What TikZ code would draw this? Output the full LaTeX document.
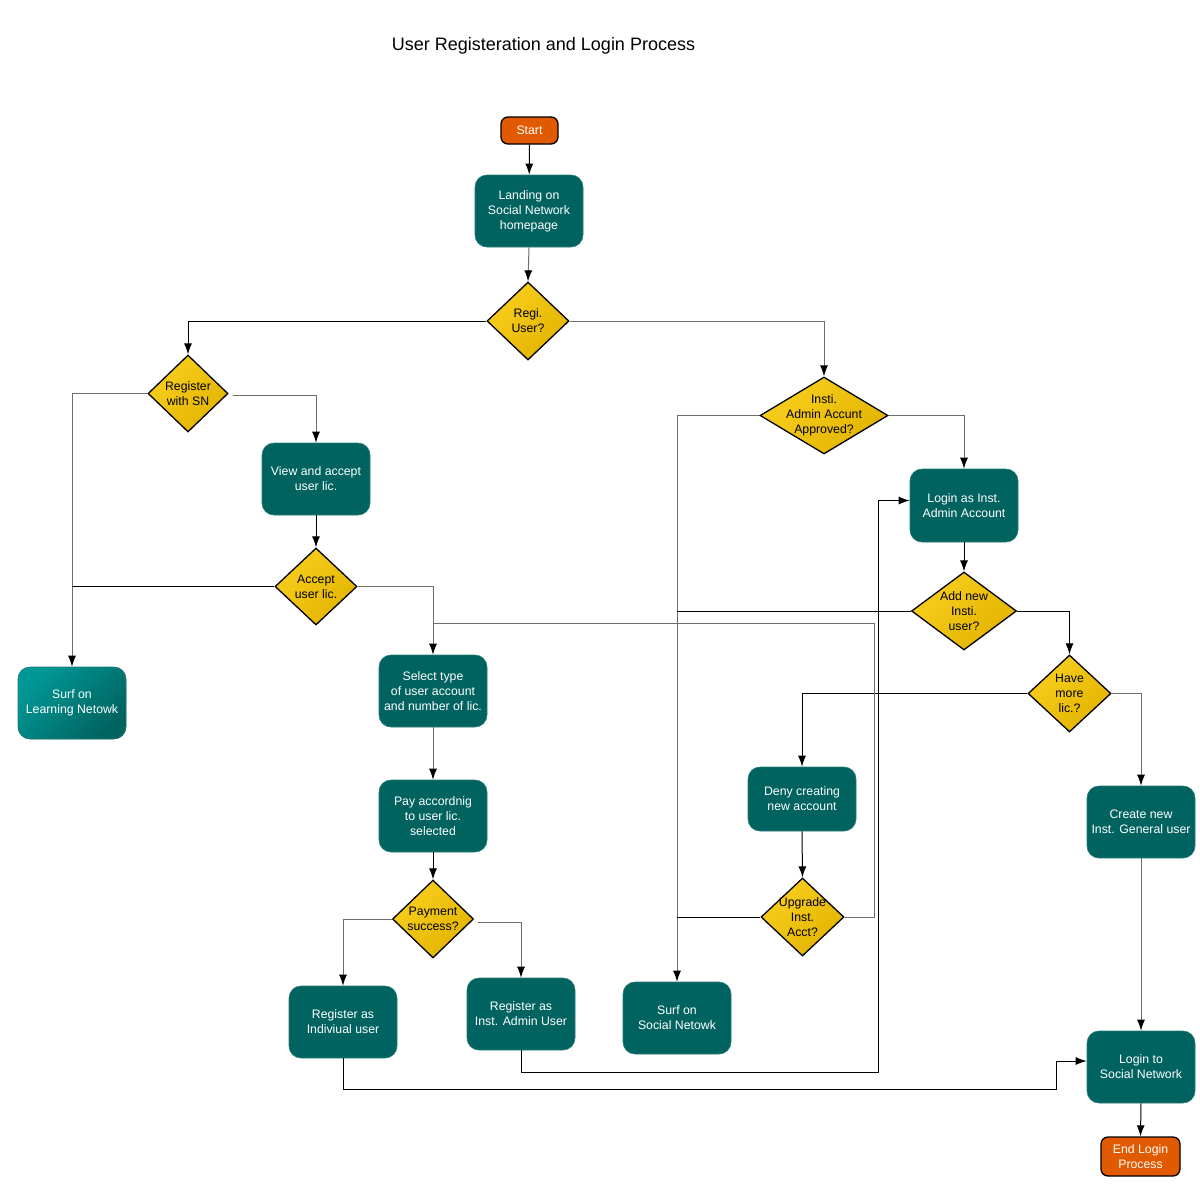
\documentclass[tikz,border=0pt]{standalone}
\usepackage{fontspec}
\setmainfont{Liberation Sans}
\usetikzlibrary{shapes.geometric,arrows.meta,positioning}
\definecolor{tealbox}{RGB}{0,99,96}
\definecolor{teallight}{RGB}{0,152,150}
\definecolor{goldA}{RGB}{248,206,30}
\definecolor{goldB}{RGB}{226,180,0}
\definecolor{orangebox}{RGB}{226,90,0}
\definecolor{linegray}{RGB}{110,110,110}
\tikzset{
  boxstyle/.style={rectangle, rounded corners=12pt, fill=tealbox, draw=tealbox!85!white, line width=0.6pt,
     text=white, align=center, font=\fontsize{12.3}{15}\selectfont, inner sep=0pt},
  termstyle/.style={rectangle, rounded corners=7pt, fill=orangebox, draw=black, line width=1.3pt,
     text=white, align=center, font=\fontsize{12.3}{15}\selectfont, inner sep=0pt},
  diastyle/.style={diamond, draw=black, line width=1.3pt, shading=axis, left color=goldA, right color=goldB,
     shading angle=45, inner sep=0pt},
  dtext/.style={text=black, align=center, font=\fontsize{12.3}{15}\selectfont, inner sep=0pt},
  conn/.style={draw=linegray, line width=1pt},
  connb/.style={draw=black, line width=1pt},
  arr/.style={-{Latex[length=11pt,width=8pt]}, arrows={[color=black]}}
}
\begin{document}
\begin{tikzpicture}[x=1pt,y=-1pt]
\useasboundingbox[fill=white] (0,0) rectangle (1200,1200);
\node[font=\fontsize{18}{20}\selectfont] (title) at (543.5,46) {User Registeration and Login Process};

% terminals
\node[termstyle, minimum width=57pt, minimum height=27pt] (start) at (529.5,130.5) {Start};
\node[termstyle, minimum width=79pt, minimum height=39pt] (endp) at (1140.5,1156.5) {End Login\\Process};

% boxes
\node[boxstyle, minimum width=108pt, minimum height=72pt] (landing) at (529,211) {Landing on\\Social Network\\homepage};
\node[boxstyle, minimum width=108pt, minimum height=72pt] (view) at (316,479) {View and accept\\user lic.};
\node[boxstyle, minimum width=108pt, minimum height=72pt, shading=axis, left color=teallight, right color=tealbox, shading angle=45] (surfL) at (72,703) {Surf on\\Learning Netowk};
\node[boxstyle, minimum width=108pt, minimum height=72pt] (select) at (433,691) {Select type\\of user account\\and number of lic.};
\node[boxstyle, minimum width=108pt, minimum height=72pt] (pay) at (433,816) {Pay accordnig\\to user lic.\\selected};
\node[boxstyle, minimum width=108pt, minimum height=72pt] (regind) at (343,1022) {Register as\\Indiviual user};
\node[boxstyle, minimum width=108pt, minimum height=72pt] (regadm) at (521,1014) {Register as\\Inst. Admin User};
\node[boxstyle, minimum width=108pt, minimum height=72pt] (surfS) at (677,1018) {Surf on\\Social Netowk};
\node[boxstyle, minimum width=108pt, minimum height=73pt] (loginadm) at (964,505.5) {Login as Inst.\\Admin Account};
\node[boxstyle, minimum width=108pt, minimum height=64pt] (deny) at (802,799) {Deny creating\\new account};
\node[boxstyle, minimum width=108pt, minimum height=72pt] (create) at (1141,822) {Create new\\Inst. General user};
\node[boxstyle, minimum width=108pt, minimum height=72pt] (loginsn) at (1141,1067) {Login to\\Social Network};

% diamonds
\node[diastyle, minimum width=82pt, minimum height=78pt] (regi) at (528,321) {};
\node[dtext] (regiT) at (regi) {Regi.\\User?};
\node[diastyle, minimum width=80pt, minimum height=77pt] (regsn) at (188,393.5) {};
\node[dtext] (regsnT) at (regsn) {Register\\with SN};
\node[diastyle, minimum width=128pt, minimum height=77pt] (insti) at (824,415.5) {};
\node[dtext] (instiT) at (insti) {Insti.\\Admin Accunt\\Approved?};
\node[diastyle, minimum width=82pt, minimum height=77pt] (accept) at (316,586.5) {};
\node[dtext] (acceptT) at (accept) {Accept\\user lic.};
\node[diastyle, minimum width=81pt, minimum height=78pt] (payment) at (433,919) {};
\node[dtext] (paymentT) at (payment) {Payment\\success?};
\node[diastyle, minimum width=105pt, minimum height=78pt] (addnew) at (964,611) {};
\node[dtext] (addnewT) at (addnew) {Add new\\Insti.\\user?};
\node[diastyle, minimum width=83pt, minimum height=77pt] (havemore) at (1069.5,693.5) {};
\node[dtext] (havemoreT) at (havemore) {Have\\more\\lic.?};
\node[diastyle, minimum width=83pt, minimum height=78pt] (upg) at (802.5,917) {};
\node[dtext] (upgT) at (upg) {Upgrade\\Inst.\\Acct?};

% helper coordinates
\coordinate (c1) at (874,623);
\coordinate (c2) at (878,1072);
\coordinate (c3) at (1056,1089);

% connectors
\draw[connb,arr] (start) -- (landing);
\draw[conn,arr] (landing.south) -- (regi.north);
\draw[connb,arr] (regi.west) -| (regsn.north);
\draw[conn,arr] (regi.east) -| (insti.north);
\draw[conn,arr] (regsn.west) -| (surfL.north);
\draw[conn,arr] ([xshift=4pt,yshift=-2pt]regsn.east) -| (view.north);
\draw[connb,arr] (view.south) -- (accept.north);
\draw[connb] (accept.west) -- (surfL.north |- accept.west);
\draw[conn,arr] (accept.east) -| (select.north);
\draw[conn,arr] (select.south) -- (pay.north);
\draw[connb,arr] (pay.south) -- (payment.north);
\draw[conn,arr] (payment.west) -| (regind.north);
\draw[conn,arr] ([xshift=4pt,yshift=-3pt]payment.east) -| (regadm.north);
\draw[conn,arr] (insti.west) -| (surfS.north);
\draw[conn,arr] (insti.east) -| (loginadm.north);
\draw[connb,arr] (loginadm.south) -- (addnew.north);
\draw[connb] (addnew.west) -- (surfS.north |- addnew.west);
\draw[connb,arr] (addnew.east) -| (havemore.north);
\draw[connb,arr] (havemore.west) -| (deny.north);
\draw[conn,arr] (havemore.east) -| (create.north);
\draw[connb,arr] (deny.south) -- (upg.north);
\draw[connb] (upg.west) -- (surfS.north |- upg.west);
\draw[conn] (upg.east) -| (c1) -- (select.north |- c1);
\draw[connb,arr] (regadm.south) |- (c2) |- ([yshift=5pt]loginadm.west);
\draw[conn,arr] (create.south) -- (loginsn.north);
\draw[connb,arr] (regind.south) |- (c3) |- ([yshift=6pt]loginsn.west);
\draw[connb,arr] (loginsn.south) -- (endp.north);
\end{tikzpicture}
\end{document}
